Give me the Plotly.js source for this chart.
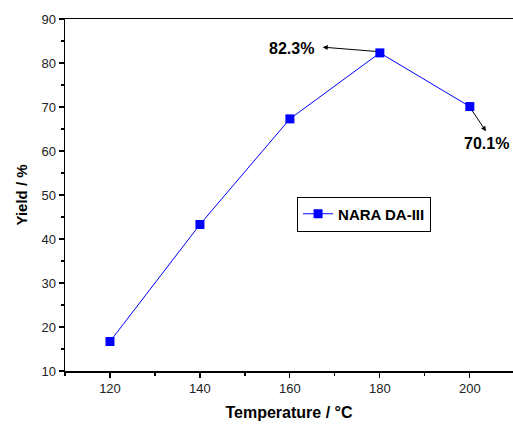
<!DOCTYPE html>
<html><head><meta charset="utf-8">
<script src="https://cdn.plot.ly/plotly-3.0.1.min.js"></script>
<style>html,body{margin:0;padding:0;overflow:hidden;background:#fff}</style>
</head><body><div id="chart" style="width:513px;height:426px"></div>
<script>
const temperatures = [120, 140, 160, 180, 200];
const yields = [16.7, 43.3, 67.3, 82.3, 70.1];
const seriesName = 'NARA DA-III';
const xTickVals = [120, 140, 160, 180, 200];
const yTickVals = [10, 20, 30, 40, 50, 60, 70, 80, 90];
const labelPeak = '82.3%';
const labelEnd = '70.1%';

const font = 'Liberation Sans, Arial, sans-serif';
const trace = {
  x: temperatures, y: yields, name: seriesName, type: 'scatter', mode: 'lines+markers',
  line: {color: '#0000ff', width: 1},
  marker: {symbol: 'square', size: 9, color: '#0000ff'}
};
const layout = {
  width: 513, height: 426,
  margin: {l: 65, r: 0, t: 19, b: 55},
  paper_bgcolor: '#fff', plot_bgcolor: '#fff',
  font: {family: font, color: '#222', size: 13},
  showlegend: true,
  legend: {x: 0.518, y: 0.446, xanchor: 'left', yanchor: 'middle', bordercolor: '#000', borderwidth: 1,
    bgcolor: '#fff', font: {family: font, size: 15, color: '#000', weight: 'bold'},
    itemwidth: 30, tracegroupgap: 0},
  xaxis: {range: [110, 209.6], tickvals: xTickVals, ticks: 'outside', ticklen: 5, tickwidth: 1.2,
    tickcolor: '#000', showline: true, linecolor: '#000', linewidth: 1.5, mirror: true,
    showgrid: false, zeroline: false,
    minor: {dtick: 10, tick0: 110, ticks: 'outside', ticklen: 3, tickcolor: '#000', tickwidth: 1.2, showgrid: false},
    tickfont: {size: 13, color: '#222'},
    title: {text: 'Temperature / °C', font: {size: 16, color: '#000', weight: 'bold'}, standoff: 11}},
  yaxis: {range: [10, 90], tickvals: yTickVals, ticks: 'outside', ticklen: 5, tickwidth: 1.2,
    tickcolor: '#000', showline: true, linecolor: '#000', linewidth: 1.5, mirror: false,
    showgrid: false, zeroline: false,
    minor: {dtick: 5, tick0: 10, ticks: 'outside', ticklen: 3, tickcolor: '#000', tickwidth: 1.2, showgrid: false},
    tickfont: {size: 13, color: '#222'},
    title: {text: 'Yield / %', font: {size: 15, color: '#000', weight: 'bold'}, standoff: 10}},
  annotations: [
    {x: 160.4, y: 83.4, xref: 'x', yref: 'y', text: labelPeak, showarrow: false,
      font: {family: font, size: 16, color: '#000', weight: 'bold'}},
    {x: 167.3, y: 83.6, xref: 'x', yref: 'y', ax: 179.5, ay: 82.6, axref: 'x', ayref: 'y',
      text: '', showarrow: true, arrowhead: 2, arrowsize: 1, arrowwidth: 1, arrowcolor: '#000'},
    {x: 203.8, y: 61.8, xref: 'x', yref: 'y', text: labelEnd, showarrow: false,
      font: {family: font, size: 16, color: '#000', weight: 'bold'}},
    {x: 203.6, y: 64.5, xref: 'x', yref: 'y', ax: 200.3, ay: 69.5, axref: 'x', ayref: 'y',
      text: '', showarrow: true, arrowhead: 2, arrowsize: 1, arrowwidth: 1, arrowcolor: '#000'}
  ]
};
Plotly.newPlot('chart', [trace], layout, {displayModeBar: false, staticPlot: true});
</script></body></html>
